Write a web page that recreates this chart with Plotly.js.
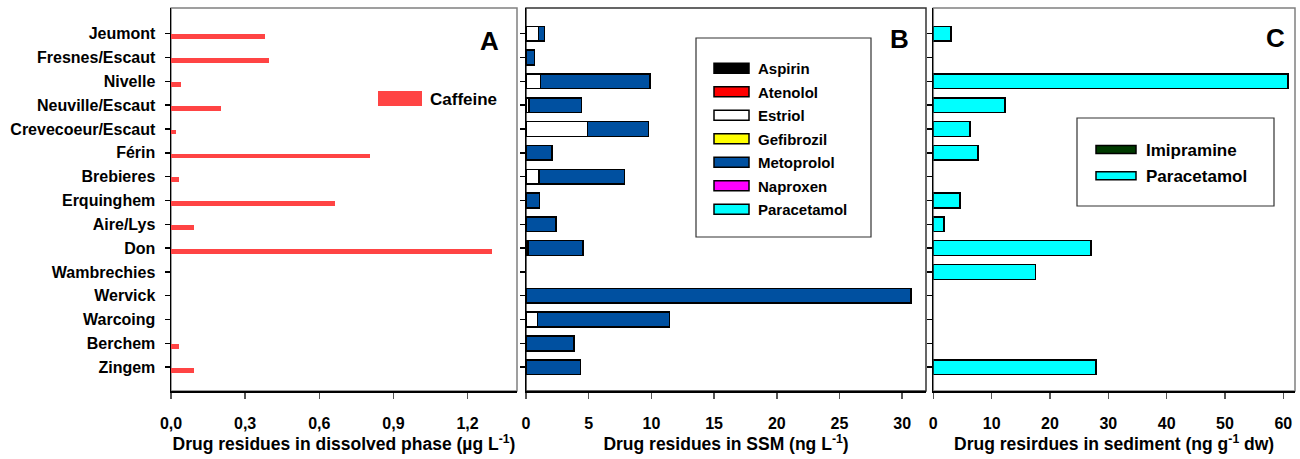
<!DOCTYPE html>
<html><head><meta charset="utf-8">
<script src="https://cdn.plot.ly/plotly-3.0.1.min.js"></script>
<style>body{margin:0;background:#fff}#chart{width:1300px;height:459px}</style>
</head><body><div id="chart"></div>
<script>
// ---- data ----
const sites = ['Jeumont','Fresnes/Escaut','Nivelle','Neuville/Escaut','Crevecoeur/Escaut','Férin','Brebieres','Erquinghem','Aire/Lys','Don','Wambrechies','Wervick','Warcoing','Berchem','Zingem'];
// Panel A: dissolved phase (µg/L)
const caffeine = [0.38,0.396,0.04,0.202,0.019,0.805,0.034,0.662,0.094,1.30,null,null,null,0.031,0.092];
// Panel B: SSM (ng/L)
const aspirinSSM    = [null,null,null,null,null,null,null,null,null,0.2,null,null,null,null,null];
const atenololSSM   = [null,null,null,null,null,null,null,null,null,null,null,null,null,null,null];
const estriolSSM    = [0.98,null,1.17,0.24,4.89,null,1.04,null,null,null,null,null,0.9,null,null];
const gefibrozilSSM = [null,null,null,null,null,null,null,null,null,null,null,null,null,null,null];
const metoprololSSM = [0.51,0.69,8.70,4.17,4.87,2.07,6.81,1.06,2.39,4.35,null,30.7,10.54,3.83,4.34];
const naproxenSSM   = [null,null,null,null,null,null,null,null,null,null,null,null,null,null,null];
const paracetamolSSM= [null,null,null,null,null,null,null,null,null,null,null,null,null,null,null];
// Panel C: sediment (ng/g dw)
const imipramineSed  = [null,null,null,null,null,null,null,null,null,null,null,null,null,null,null];
const paracetamolSed = [3.0,null,60.8,12.3,6.3,7.7,null,4.6,1.8,27.0,17.5,null,null,null,27.9];
// tick labels
const ticksA = [0,0.3,0.6,0.9,1.2];

// ---- layout helpers ----
const FONT = 'Arial, "Liberation Sans", sans-serif';
const W = 1300, H = 459, MT = 8, MB = 68;
const plotH = H - MT - MB;
const fx = p => p / W;
const fy = p => (H - MB - p) / plotH;
const bold = (size) => ({family: FONT, size: size, color: '#000', weight: 'bold'});

const blk = {color: '#000', width: 1.5};
const data = [
  {type:'bar', orientation:'h', name:'Caffeine', y:sites, x:caffeine, xaxis:'x', yaxis:'y', showlegend:true,
   marker:{color:'#FF4444', line:{width:0}}, width:0.2, offset:0.03, legend:'legend'},
];
const bSeries = [
  ['Aspirin', aspirinSSM, '#000000'],
  ['Atenolol', atenololSSM, '#FF0000'],
  ['Estriol', estriolSSM, '#FFFFFF'],
  ['Gefibrozil', gefibrozilSSM, '#FFFF00'],
  ['Metoprolol', metoprololSSM, '#0050A0'],
  ['Naproxen', naproxenSSM, '#FF00FF'],
  ['Paracetamol', paracetamolSSM, '#00FFFF'],
];
bSeries.forEach(([n, v, c]) => data.push({type:'bar', orientation:'h', name:n, y:sites, x:v, showlegend:true,
  xaxis:'x2', yaxis:'y2', marker:{color:c, line:blk}, width:0.62, legend:'legend2', legendgroup:'b'+n}));
[['Imipramine', imipramineSed, '#003A00'], ['Paracetamol', paracetamolSed, '#00FFFF']].forEach(([n, v, c]) =>
  data.push({type:'bar', orientation:'h', name:n, y:sites, x:v, showlegend:true,
  xaxis:'x3', yaxis:'y3', marker:{color:c, line:blk}, width:0.62, legend:'legend3', legendgroup:'c'+n}));

const xCommon = {ticks:'outside', ticklen:6, tickcolor:'#555', tickwidth:1.5, showline:true, linecolor:'#000',
  linewidth:1.5, showgrid:false, zeroline:false, tickfont:bold(16), ticklabelstandoff:11, fixedrange:true};
const yCommon = {type:'category', categoryorder:'array', categoryarray:sites, range:[15.0,-1.08],
  ticks:'outside', ticklen:5, tickcolor:'#000', tickwidth:1.5, showline:true, linecolor:'#000', linewidth:1.5,
  showgrid:false, zeroline:false, tickfont:bold(16), ticklabelstandoff:6, automargin:false};

const layout = {
  width:W, height:H, margin:{l:0, r:0, t:MT, b:MB}, autosize:false, showlegend:true,
  paper_bgcolor:'#fff', plot_bgcolor:'#fff', separators:',.',
  barmode:'stack', font:{family:FONT, color:'#000'},
  xaxis: Object.assign({}, xCommon, {domain:[fx(171), fx(517)], range:[0,1.4], anchor:'y',
    tickvals:ticksA, tickformat:'.1f',
    title:{text:'Drug residues in dissolved phase (µg L<sup>-1</sup>)', font:bold(17.5), standoff:7}}),
  yaxis: Object.assign({}, yCommon, {anchor:'x', domain:[0,1]}),
  xaxis2: Object.assign({}, xCommon, {domain:[fx(526), fx(926)], range:[0,31.9], tick0:0, dtick:5, anchor:'y2',
    title:{text:'Drug residues in SSM (ng L<sup>-1</sup>)', font:bold(17.5), standoff:7}}),
  yaxis2: Object.assign({}, yCommon, {anchor:'x2', domain:[0,1], showticklabels:false}),
  xaxis3: Object.assign({}, xCommon, {domain:[fx(933.3), fx(1295)], range:[0,62], tick0:0, dtick:10, anchor:'y3',
    title:{text:'Drug resirdues in sediment (ng g<sup>-1</sup> dw)', font:bold(17.5), standoff:7}}),
  yaxis3: Object.assign({}, yCommon, {anchor:'x3', domain:[0,1], showticklabels:false}),
  legend: {x:fx(376), y:fy(99), xanchor:'left', yanchor:'middle', bgcolor:'rgba(0,0,0,0)', borderwidth:0,
    font:bold(17), indentation:14, traceorder:'normal'},
  legend2: {x:fx(712), y:fy(139), xanchor:'left', yanchor:'middle', bgcolor:'rgba(0,0,0,0)', borderwidth:0,
    font:bold(15), indentation:6, traceorder:'grouped', tracegroupgap:1},
  legend3: {x:fx(1094), y:fy(163), xanchor:'left', yanchor:'middle', bgcolor:'rgba(0,0,0,0)', borderwidth:0,
    font:bold(17), indentation:12, traceorder:'grouped', tracegroupgap:1},
  shapes: [
    {type:'rect', xref:'x domain', yref:'y domain', x0:0, x1:1, y0:0, y1:1, line:{color:'#808080', width:1.5}, layer:'below'},
    {type:'rect', xref:'x2 domain', yref:'y2 domain', x0:0, x1:1, y0:0, y1:1, line:{color:'#333', width:1.5}, layer:'below'},
    {type:'rect', xref:'x3 domain', yref:'y3 domain', x0:0, x1:1, y0:0, y1:1, line:{color:'#808080', width:1.5}, layer:'below'},
    {type:'rect', xref:'paper', yref:'paper', x0:fx(696), x1:fx(871), y0:fy(237), y1:fy(38), line:{color:'#333', width:1.2}},
    {type:'rect', xref:'paper', yref:'paper', x0:fx(1077), x1:fx(1274), y0:fy(206), y1:fy(118), line:{color:'#333', width:1.2}},
  ],
  annotations: [
    {text:'A', xref:'paper', yref:'paper', x:fx(489), y:fy(41), xanchor:'center', yanchor:'middle', showarrow:false, font:bold(26)},
    {text:'B', xref:'paper', yref:'paper', x:fx(899), y:fy(39), xanchor:'center', yanchor:'middle', showarrow:false, font:bold(26)},
    {text:'C', xref:'paper', yref:'paper', x:fx(1275), y:fy(38), xanchor:'center', yanchor:'middle', showarrow:false, font:bold(26)},
  ],
};

Plotly.newPlot('chart', data, layout, {displayModeBar:false, staticPlot:true}).then(gd => {
  const sym = {legend:'M-32,7.5H12V-7.5H-32Z', legend2:'M-24,5H11V-5H-24Z', legend3:'M-30,4H10V-4H-30Z'};
  Object.keys(sym).forEach(k => {
    gd.querySelectorAll('g.' + k + ' .legendpoints path').forEach(p => p.setAttribute('d', sym[k]));
  });
});
</script>
</body></html>
